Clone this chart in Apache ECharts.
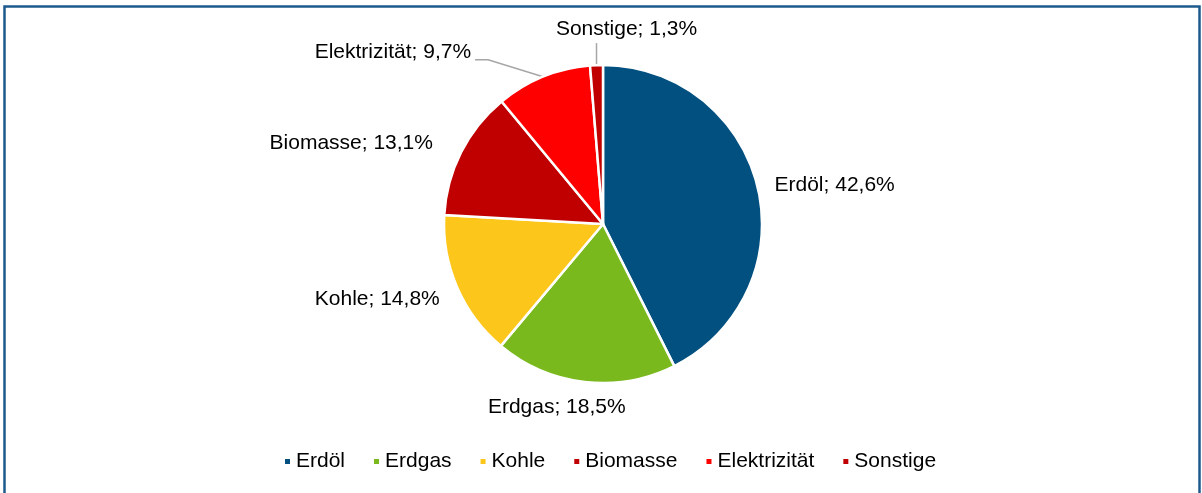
<!DOCTYPE html>
<html>

<head>
    <meta charset="UTF-8">
    <title>Endenergieverbrauch nach Energieträgern</title>
    <script src="https://cdn.jsdelivr.net/npm/echarts@6/dist/echarts.min.js"></script>
    <style>
        html, body { margin: 0; padding: 0; background: #fff; }
    </style>
</head>

<body>
    <div id="pie" style="width: 1202px; height: 493px;"></div>
    <script>
        var categories = ['Erdöl', 'Erdgas', 'Kohle', 'Biomasse', 'Elektrizität', 'Sonstige'];
        var shares = [42.6, 18.5, 14.8, 13.1, 9.7, 1.3];
        var colors = ['#02507f', '#7ab91d', '#fdc61a', '#c00000', '#ff0000', '#c00000'];
        // only the two small slices at the top show a leader line
        var showLine = [false, false, false, false, true, true];

        var FONT = 'Liberation Sans, Arial, sans-serif';
        var chart = echarts.init(document.getElementById('pie'), null, { renderer: 'canvas' });

        var pieData = categories.map(function (name, i) {
            return {
                name: name,
                value: shares[i],
                itemStyle: { color: colors[i] },
                labelLine: { show: showLine[i] }
            };
        });

        // nudge labels to where excel put them, starting from the slice edge point
        function placeLabel(params) {
            var i = params.dataIndex;
            var p = params.labelLinePoints ? params.labelLinePoints[0] : null;
            if (!p) return {};
            if (i === 1) return { dx: 51, dy: 17 };
            if (i === 2) return { dx: -1, dy: 9 };
            if (i === 3) return { dx: -12, dy: -5 };
            if (i === 4) {
                return {
                    x: p[0] - 72, y: p[1] - 25, align: 'right', verticalAlign: 'middle',
                    labelLinePoints: [p, [p[0] - 55, p[1] - 17], [p[0] - 68, p[1] - 17]]
                };
            }
            if (i === 5) {
                return {
                    x: p[0] + 30, y: p[1] - 36, align: 'center', verticalAlign: 'middle',
                    labelLinePoints: [p, [p[0], p[1] - 22], [p[0], p[1] - 22]]
                };
            }
            return {};
        }

        var option = {
            backgroundColor: '#ffffff',
            animation: false,
            textStyle: { fontFamily: FONT },
            graphic: [{
                type: 'rect',
                shape: { x: 4.5, y: 6.5, width: 1195, height: 500 },
                style: { fill: 'none', stroke: '#1d5a8c', lineWidth: 2.5 },
                silent: true
            }],
            legend: {
                bottom: 16,
                left: 278,
                icon: 'rect',
                itemWidth: 7,
                itemHeight: 7,
                itemGap: 27,
                textStyle: { fontSize: 21, color: '#000', fontFamily: FONT },
                data: categories
            },
            series: [{
                type: 'pie',
                center: [603, 224],
                radius: [0, 159],
                startAngle: 90,
                clockwise: true,
                avoidLabelOverlap: false,
                itemStyle: { borderColor: '#ffffff', borderWidth: 2.5 },
                label: {
                    show: true,
                    position: 'outside',
                    fontSize: 21,
                    color: '#000',
                    fontFamily: FONT,
                    formatter: function (p) {
                        return p.name + '; ' + p.value.toFixed(1).replace('.', ',') + '%';
                    }
                },
                labelLine: {
                    length: 8,
                    length2: 4,
                    lineStyle: { color: '#a6a6a6', width: 1.5 }
                },
                labelLayout: placeLabel,
                emphasis: { disabled: true },
                data: pieData
            }]
        };

        chart.setOption(option);
    </script>

</body>

</html>
